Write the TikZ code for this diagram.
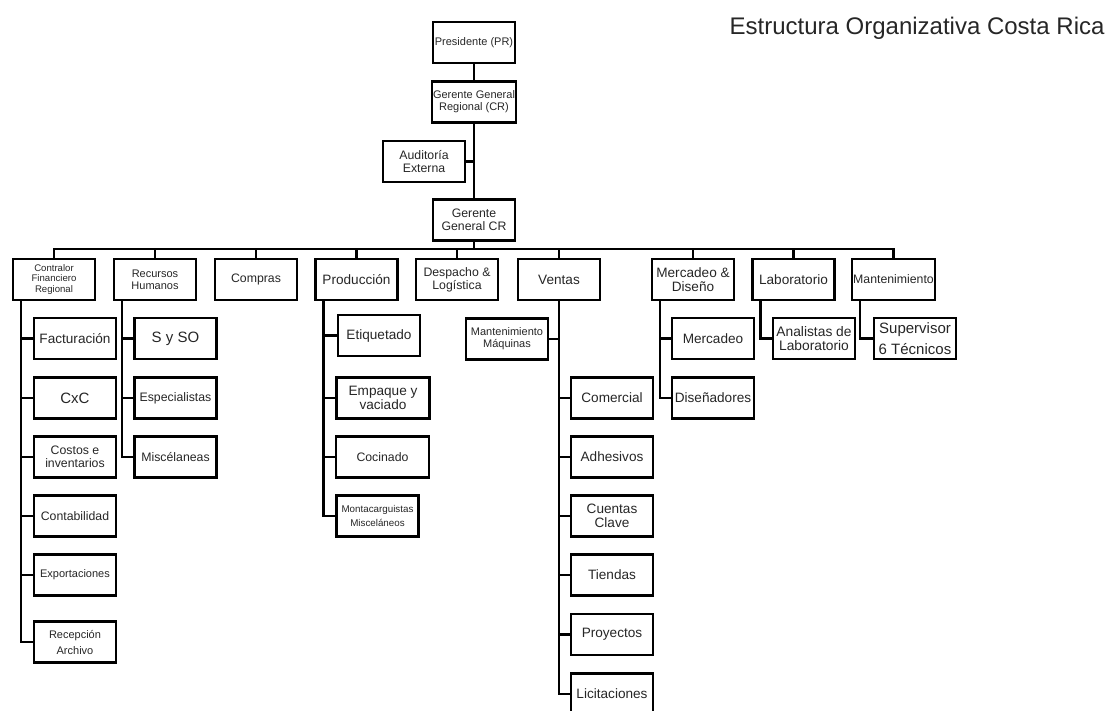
\documentclass[tikz,border=0pt]{standalone}
\usepackage{fontspec}
\setmainfont{Liberation Sans}

\begin{document}
\begin{tikzpicture}[x=1pt,y=-1pt,
        box/.style={draw,line width=2.2pt,align=center,inner sep=1pt,
            minimum width=82pt,minimum height=41pt,text=black!85},
        wide/.style={minimum width=93pt},
        t15/.style={font=\fontsize{15}{17}\selectfont},
        t14/.style={font=\fontsize{13.6}{14}\selectfont},
        t12/.style={font=\fontsize{12.3}{12.8}\selectfont},
        t11/.style={font=\fontsize{11}{11.8}\selectfont},
        t10/.style={font=\fontsize{9.6}{10.3}\selectfont},
        ln/.style={line width=2.2pt}]
                \useasboundingbox (0,0) rectangle (1113,711);
                \clip (0,0) rectangle (1113,711);

                \node[anchor=base east,text=black!85,font=\fontsize{24}{28}\selectfont] (titulo) at (1108,35) {Estructura Organizativa Costa Rica};

                \node[box,t11] (pres) at (474,42.5) {Presidente (PR)};
                \node[box,t11] (ggr) at (474,102) {Gerente General\\Regional (CR)};
                \node[box,t12] (aud) at (424,161.5) {Auditoría\\Externa};
                \node[box,t12] (gg) at (474,220) {Gerente\\General CR};

                \node[box,t10] (contralor) at (54,279.5) {Contralor\\Financiero\\Regional};
                \node[box,t11] (rh) at (155,279.5) {Recursos\\Humanos};
                \node[box,t12] (compras) at (256,279.5) {Compras};
                \node[box,t14] (prod) at (356.5,279.5) {Producción};
                \node[box,t12] (desp) at (457,279.5) {Despacho \&\\Logística};
                \node[box,t14] (ventas) at (559,279.5) {Ventas};
                \node[box,t14] (merc) at (693,279.5) {Mercadeo \&\\Diseño};
                \node[box,t14] (lab) at (793.5,279.5) {Laboratorio};
                \node[box,t12] (mant) at (893.5,279.5) {Mantenimiento};

                \node[box,t14] (fact) at (75,338.5) {Facturación};
                \node[box,t15] (cxc) at (75,398) {CxC};
                \node[box,t12] (costos) at (75,457) {Costos e\\inventarios};
                \node[box,t12] (conta) at (75,516) {Contabilidad};
                \node[box,t11] (export) at (75,575) {Exportaciones};
                \node[box,font=\fontsize{11}{16}\selectfont] (recep) at (75,642) {Recepción\\Archivo};

                \node[box,t15] (syso) at (175.5,338.5) {S y SO};
                \node[box,t12] (espec) at (175.5,398) {Especialistas};
                \node[box,t12] (misc) at (175.5,457) {Miscélaneas};

                \node[box,t14] (etiq) at (379,335.5) {Etiquetado};
                \node[box,wide,t14] (empaque) at (383,398) {Empaque y\\vaciado};
                \node[box,wide,t12] (cocinado) at (382.5,457) {Cocinado};
                \node[box,font=\fontsize{9.8}{13.3}\selectfont] (monta) at (377.5,516) {Montacarguistas\\Misceláneos};

                \node[box,t11] (maqui) at (507,339) {Mantenimiento\\Máquinas};
                \node[box,t14] (comercial) at (612,398) {Comercial};
                \node[box,t14] (adhes) at (612,457) {Adhesivos};
                \node[box,t14] (cuentas) at (612,516) {Cuentas\\Clave};
                \node[box,t14] (tiendas) at (612,575) {Tiendas};
                \node[box,t14] (proy) at (612,634.5) {Proyectos};
                \node[box,t14] (licit) at (612,694) {Licitaciones};

                \node[box,t14] (mercadeo) at (713,338.5) {Mercadeo};
                \node[box,t14] (disen) at (713,398) {Diseñadores};
                \node[box,font=\fontsize{13.8}{14.5}\selectfont] (analistas) at (814,338.5) {Analistas de\\Laboratorio};
                \node[box,font=\fontsize{15}{21.7}\selectfont] (super) at (915,338.5) {Supervisor\\6 Técnicos};

                \draw[ln] (pres) -- (ggr);
                \draw[ln] (ggr) -- (gg);
                \draw[ln] (aud.east) -- (aud.east -| ggr.south);

                \coordinate (bus) at (474,249);
                \draw[ln] (gg.south) -- (bus);
                \foreach \n in {contralor,rh,compras,prod,desp,ventas,merc,lab,mant}
                    \draw[ln] (bus) -| (\n.north);

                \foreach \n in {fact,cxc,costos,conta,export,recep}
                    \draw[ln] ([xshift=9pt]contralor.south west) |- (\n.west);
                \foreach \n in {syso,espec,misc}
                    \draw[ln] ([xshift=9pt]rh.south west) |- (\n.west);
                \foreach \n in {etiq,empaque,cocinado,monta}
                    \draw[ln] ([xshift=9pt]prod.south west) |- (\n.west);
                \foreach \n in {comercial,adhes,cuentas,tiendas,proy,licit}
                    \draw[ln] (ventas.south) |- (\n.west);
                \draw[ln] (ventas.south) |- (maqui.east);
                \foreach \n in {mercadeo,disen}
                    \draw[ln] ([xshift=9pt]merc.south west) |- (\n.west);
                \draw[ln] ([xshift=9pt]lab.south west) |- (analistas.west);
                \draw[ln] ([xshift=9pt]mant.south west) |- (super.west);
            \end{tikzpicture}
\end{document}
